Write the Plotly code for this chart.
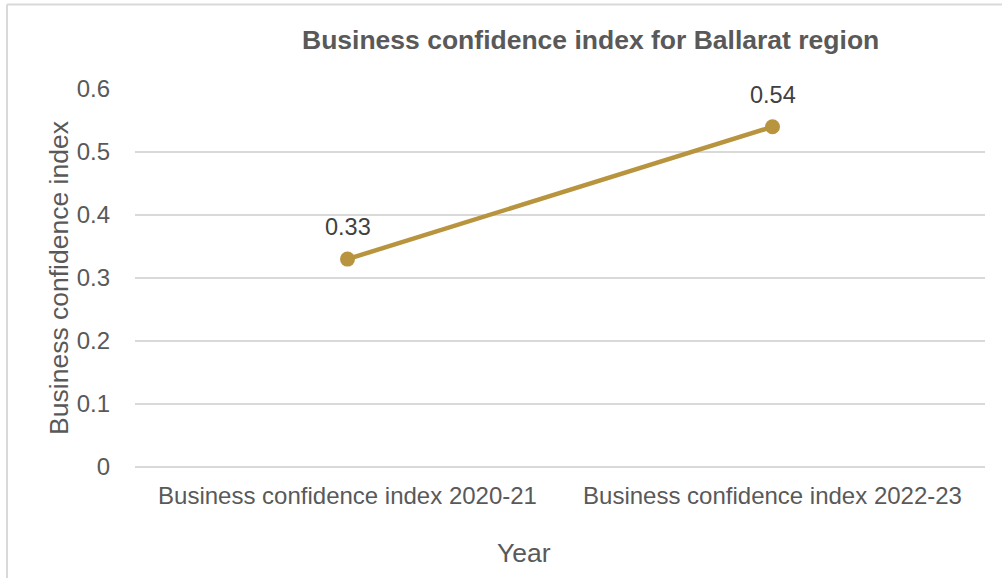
import plotly.graph_objects as go

# Chart data
categories = ["Business confidence index 2020-21", "Business confidence index 2022-23"]
values = [0.33, 0.54]
y_ticks = [0, 0.1, 0.2, 0.3, 0.4, 0.5, 0.6]
y_tick_labels = ["0", "0.1", "0.2", "0.3", "0.4", "0.5", "0.6"]

W, H = 1002, 578
L, R, T, B = 135, 17, 89, 111
pw, ph = W - L - R, H - T - B

def px_x(x):
    return (x - L) / pw

def px_y(y):
    return (H - B - y) / ph

FONT = "Liberation Sans, Arial, sans-serif"
LINE = "#B8943F"

fig = go.Figure()
fig.add_trace(go.Scatter(
    x=categories, y=values,
    mode="lines+markers",
    line=dict(color=LINE, width=4.5),
    marker=dict(color=LINE, size=15),
    showlegend=False,
))

# Value labels above each point
for cat, val in zip(categories, values):
    fig.add_annotation(
        x=cat, y=val, xref="x", yref="y",
        text=f"{val:.2f}", showarrow=False,
        yanchor="middle", yshift=32,
        font=dict(family=FONT, size=23.5, color="#404040"),
    )

# Outer chart frame (top and left edges)
fig.add_shape(type="line", xref="paper", yref="paper",
              x0=px_x(7), x1=px_x(1010), y0=px_y(4.5), y1=px_y(4.5),
              line=dict(color="#D9D9D9", width=2))
fig.add_shape(type="line", xref="paper", yref="paper",
              x0=px_x(7), x1=px_x(7), y0=px_y(4.5), y1=px_y(590),
              line=dict(color="#D9D9D9", width=2))

fig.add_annotation(
    text="<b>Business confidence index for Ballarat region</b>",
    xref="paper", yref="paper", x=px_x(590), y=px_y(40),
    xanchor="center", yanchor="middle", showarrow=False,
    font=dict(family=FONT, size=26.5, color="#595959"),
)

# X axis title
fig.add_annotation(
    text="Year",
    xref="paper", yref="paper", x=px_x(524), y=px_y(553),
    xanchor="center", yanchor="middle", showarrow=False,
    font=dict(family=FONT, size=26.5, color="#595959"),
)

fig.update_layout(
    width=W, height=H,
    margin=dict(l=L, r=R, t=T, b=B),
    paper_bgcolor="white", plot_bgcolor="white",
    font=dict(family=FONT, color="#595959"),
    xaxis=dict(
        type="category", range=[-0.5, 1.5],
        showgrid=False, showline=False, zeroline=False, ticks="",
        ticklabelstandoff=12,
        tickfont=dict(family=FONT, size=24, color="#595959"),
    ),
    yaxis=dict(
        range=[0, 0.6], tickvals=y_ticks, ticktext=y_tick_labels,
        showgrid=True, gridcolor="#D9D9D9", gridwidth=1.5,
        zeroline=True, zerolinecolor="#D9D9D9", zerolinewidth=1.5,
        showline=False, ticks="", ticklabelstandoff=24,
        tickfont=dict(family=FONT, size=24, color="#595959"),
        title=dict(text="Business confidence index", font=dict(family=FONT, size=26.5, color="#595959"), standoff=0),
    ),
)

fig.write_html("out.html")
